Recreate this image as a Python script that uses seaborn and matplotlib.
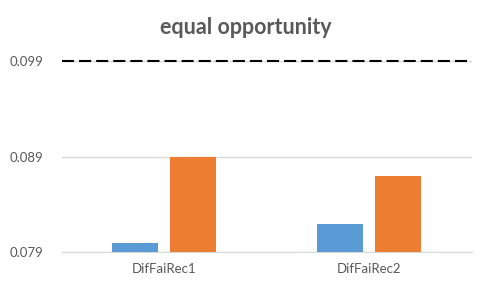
import matplotlib
matplotlib.use('Agg')
import matplotlib.pyplot as plt
import seaborn as sns
import pandas as pd

# values
categories = ['DifFaiRec1', 'DifFaiRec2']
series_names = ['Series1', 'Series2']
series1 = [0.07994, 0.08193]
series2 = [0.08895, 0.08697]
reference_level = 0.099
y_ticks = [0.079, 0.089, 0.099]

df = pd.DataFrame({
    'method': categories * 2,
    'series': [series_names[0]] * len(categories) + [series_names[1]] * len(categories),
    'value': series1 + series2,
})

sns.set_style('white')
plt.rcParams['font.family'] = ['Lato', 'DejaVu Sans']

fig = plt.figure(figsize=(4.91, 2.88), dpi=100)
ax = fig.add_axes([0.126, 0.125, 0.835, 0.663])

sns.barplot(data=df, x='method', y='value', hue='series',
            palette=['#5B9BD5', '#ED7D31'], saturation=1,
            width=0.566, gap=0.207, linewidth=0,
            legend=False, ax=ax, zorder=3)

ax.set_xlim(-0.5, 1.5)
ax.set_ylim(y_ticks[0], y_ticks[-1])
ax.set_yticks(y_ticks)
ax.set_yticklabels([f'{t:.3f}' for t in y_ticks])
ax.yaxis.grid(True, color='#D9D9D9', lw=1, zorder=0)
ax.set_axisbelow(True)

# dashed reference line
ax.axhline(reference_level, color='black', lw=1.5, ls=(0, (5.8, 2.4)),
           clip_on=False, zorder=4)

for s in ['left', 'right', 'top']:
    ax.spines[s].set_visible(False)
ax.spines['bottom'].set_color('#D9D9D9')
ax.tick_params(axis='both', length=0, colors='#595959', labelsize=9.5)
ax.tick_params(axis='y', pad=13)
ax.tick_params(axis='x', pad=8)
ax.set_xlabel('')
ax.set_ylabel('')

fig.text(0.5, 0.905, 'equal opportunity', ha='center', va='center',
         fontsize=15.5, fontweight='bold', color='#595959')

plt.savefig('out.png', dpi=100)
plt.close()
